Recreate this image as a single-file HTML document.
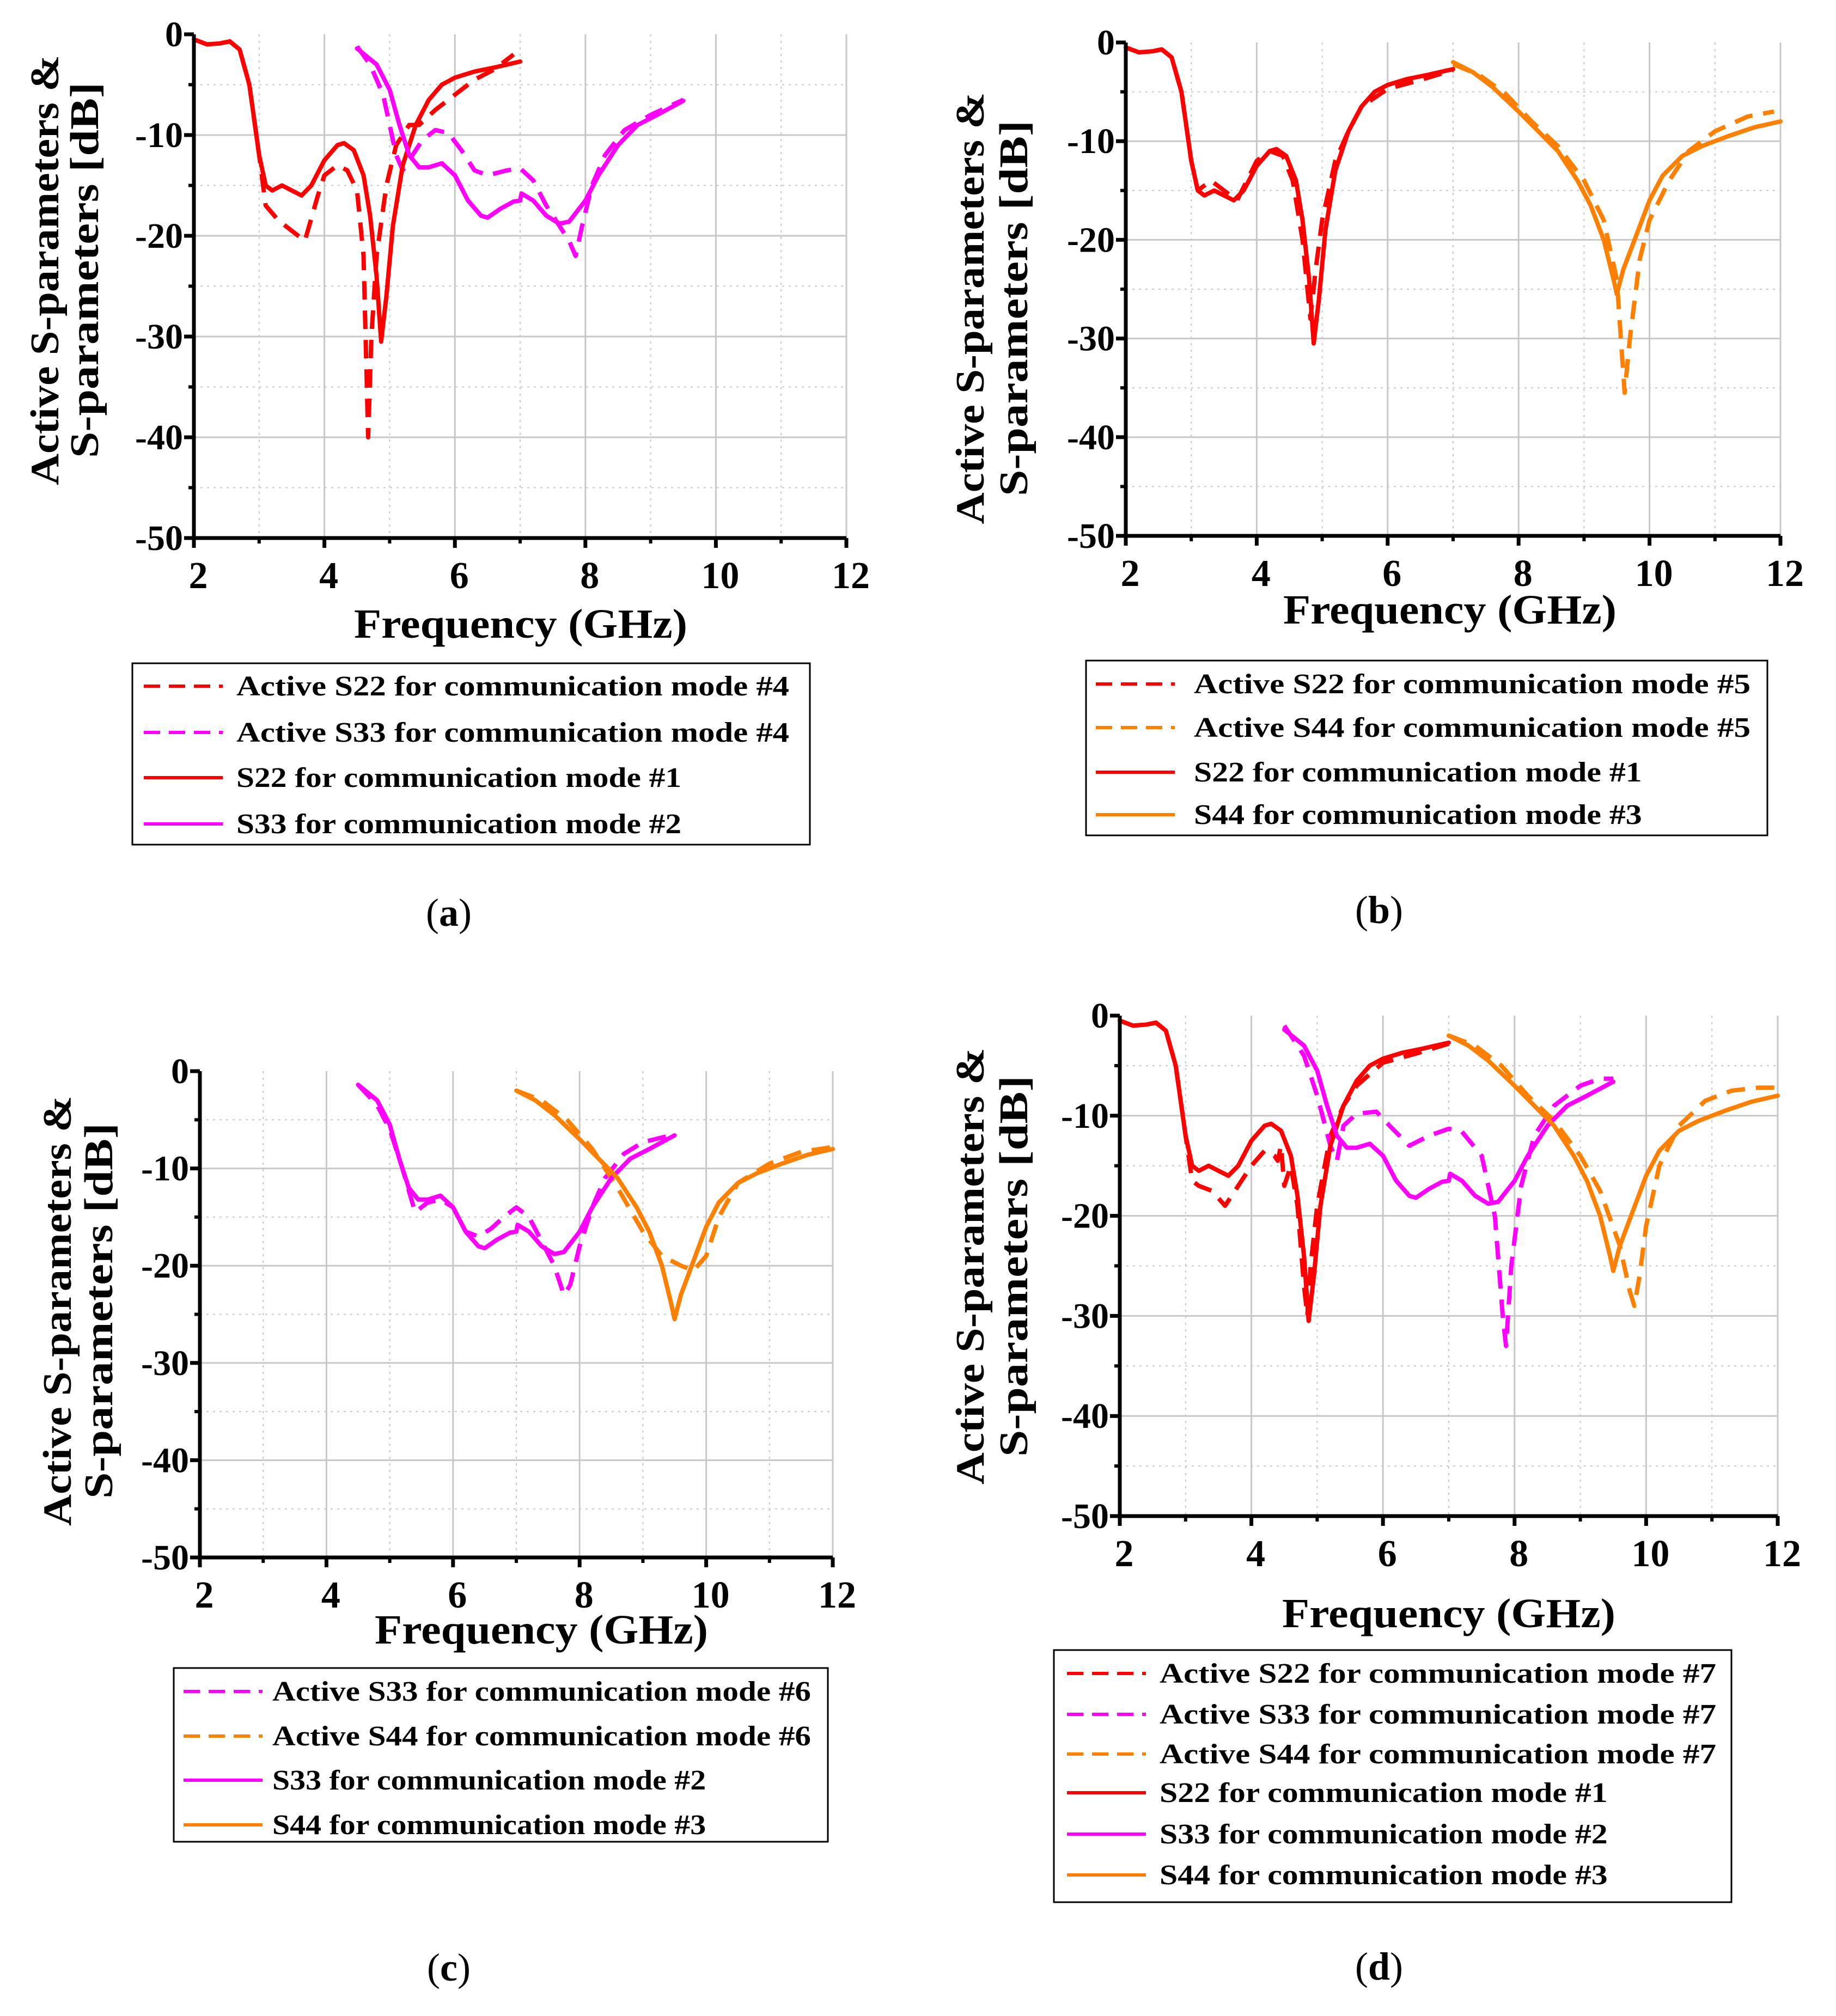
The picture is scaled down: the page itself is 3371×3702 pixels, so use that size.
<!DOCTYPE html>
<html><head><meta charset="utf-8"><style>
html,body{margin:0;padding:0;background:#fff;}
svg{display:block;font-family:"Liberation Serif",serif;font-weight:bold;}
</style></head><body>
<svg id="fig" width="3371" height="3702" viewBox="0 0 3371 3702" xmlns="http://www.w3.org/2000/svg"></svg>
<script>
// ---- data ----
const xTicks = [2,4,6,8,10,12];
const yTicks = [0,-10,-20,-30,-40,-50];
const s22Mode1X = [2,2.2,2.4,2.55,2.7,2.85,3.0,3.1,3.2,3.35,3.5,3.65,3.8,4.0,4.2,4.3,4.45,4.6,4.7,4.8,4.87,4.95,5.05,5.2,5.4,5.6,5.8,6.0,6.3,6.6,7.0];
const s22Mode1Y = [-0.5,-1.0,-0.9,-0.7,-1.5,-5,-12,-15,-15.5,-15,-15.5,-16,-15,-12.5,-11,-10.8,-11.5,-14,-18,-24,-30.5,-26,-19,-13,-9,-6.5,-5,-4.3,-3.7,-3.3,-2.7];
const s33Mode2X = [4.5,4.8,5.0,5.15,5.3,5.45,5.6,5.8,6.0,6.2,6.4,6.5,6.7,6.9,7.0,7.02,7.2,7.4,7.6,7.75,8.0,8.2,8.5,8.8,9.1,9.5];
const s33Mode2Y = [-1.4,-3,-5.5,-9,-12,-13.2,-13.2,-12.8,-14,-16.5,-18,-18.2,-17.3,-16.6,-16.5,-15.8,-16.5,-18,-18.8,-18.6,-16.5,-14,-11,-9,-8,-6.6];
const s44Mode3X = [7.0,7.3,7.6,8.0,8.3,8.6,8.9,9.1,9.3,9.45,9.5,9.6,9.8,10.0,10.2,10.5,10.8,11.2,11.6,12];
const s44Mode3Y = [-2,-3,-4.5,-7,-9,-11,-14,-16.5,-20,-24,-25.5,-23,-19.5,-16,-13.5,-11.5,-10.5,-9.5,-8.6,-8];
const aS22m4X = [2,2.2,2.4,2.55,2.7,2.85,3.0,3.1,3.3,3.5,3.7,3.9,4.0,4.2,4.35,4.5,4.6,4.67,4.72,4.8,4.95,5.1,5.3,5.45,5.7,6.0,6.3,6.6,6.9];
const aS22m4Y = [-0.5,-1.0,-0.9,-0.7,-1.5,-5,-12,-17,-18.5,-19.5,-20.5,-16,-14,-13,-13.5,-15.5,-22,-40,-30,-22,-15,-11,-9,-9,-7.5,-6,-4.5,-3.5,-2];
const aS33m4X = [4.5,4.7,4.9,5.0,5.1,5.2,5.35,5.5,5.7,5.9,6.1,6.3,6.5,6.8,7.0,7.2,7.4,7.6,7.75,7.85,7.95,8.1,8.3,8.6,9.0,9.5];
const aS33m4Y = [-1.2,-3,-6,-9,-12,-13.5,-12,-10.5,-9.5,-9.8,-11.5,-13.5,-14,-13.5,-13.3,-14.5,-17,-19,-20.5,-22,-19,-15,-12,-9.5,-8,-6.5];
const aS22m5X = [2,2.2,2.4,2.55,2.7,2.85,3.0,3.1,3.3,3.5,3.7,4.0,4.2,4.4,4.55,4.7,4.82,4.9,5.0,5.2,5.4,5.6,6.0,6.5,7.0];
const aS22m5Y = [-0.5,-1.0,-0.9,-0.7,-1.5,-5,-12,-15,-14,-15,-16,-12,-11,-11.5,-14,-20,-28,-23,-18,-12,-9,-6.5,-4.7,-3.8,-2.8];
const aS44m5X = [7.0,7.4,7.8,8.2,8.6,9.0,9.3,9.5,9.62,9.7,9.85,10.0,10.3,10.6,11.0,11.5,11.9];
const aS44m5Y = [-2.2,-3.3,-5.2,-8,-10.5,-14,-18,-24,-35.5,-30,-22,-18,-14,-11,-9,-7.5,-7];
const aS33m6X = [4.5,4.8,5.0,5.2,5.4,5.6,5.8,6.0,6.2,6.4,6.6,6.8,7.0,7.2,7.4,7.6,7.75,7.85,8.0,8.2,8.4,8.7,9.0,9.5];
const aS33m6Y = [-1.4,-3.5,-6,-10,-14.5,-13.5,-13.2,-14,-16.5,-17,-16.2,-15,-14,-15,-17.5,-20,-23,-22,-18,-14,-11,-8.5,-7.3,-6.5];
const aS44m6X = [7.0,7.4,7.8,8.2,8.6,9.0,9.3,9.6,9.8,10.0,10.2,10.5,11.0,11.5,12];
const aS44m6Y = [-2,-3,-5,-8,-12,-16.5,-19,-20,-20.5,-19,-15,-11.5,-9.5,-8.3,-7.8];
const aS22m7X = [2,2.2,2.4,2.55,2.7,2.85,3.0,3.1,3.2,3.4,3.6,3.8,4.0,4.2,4.35,4.4,4.45,4.5,4.6,4.7,4.8,4.85,4.9,5.0,5.2,5.4,5.6,6.0,6.5,7.0];
const aS22m7Y = [-0.5,-1.0,-0.9,-0.7,-1.5,-5,-12,-16.5,-17,-17.5,-19,-17,-15,-13.5,-14,-14.5,-13,-17,-15,-19,-27,-30,-25,-19,-12,-9,-7,-4.7,-3.8,-2.8];
const aS33m7X = [4.5,4.8,5.0,5.2,5.3,5.4,5.6,5.9,6.1,6.4,6.7,7.0,7.2,7.5,7.7,7.82,7.87,7.95,8.1,8.3,8.6,9.0,9.3,9.5];
const aS33m7Y = [-1,-4,-8,-13,-14.5,-11,-9.8,-9.6,-11,-13,-12,-11.3,-11.6,-14,-20,-30,-33,-25,-17,-12,-9,-7,-6.3,-6.3];
const aS44m7X = [7.0,7.4,7.8,8.2,8.6,9.0,9.3,9.6,9.75,9.82,9.9,10.0,10.2,10.5,10.9,11.3,11.7,12];
const aS44m7Y = [-2,-3,-5,-8,-10.5,-14,-17.5,-23,-27.5,-29,-26,-21,-15,-11,-8.5,-7.5,-7.2,-7.2];

const RED='#ff0000', MAG='#ff00ff', ORA='#ff8000';
const NS='http://www.w3.org/2000/svg';
const svg=document.getElementById('fig');
function mk(tag,attrs,parent){const e=document.createElementNS(NS,tag);for(const k in attrs)e.setAttribute(k,attrs[k]);(parent||svg).appendChild(e);return e;}

const panels=[
 {id:'a',x0:356,x1:1554,y0:63,y1:988,ty:[83,156,496,790,690],fx:956,fy:1145,
  leg:{x:243,y:1218,w:1244,h:333,lx:264,tx:434,tw:1015,rows:[1260,1345,1428,1513]},cap:[824,1676],
  series:[[aS22m4X,aS22m4Y,RED,1,'Active S22 for communication mode #4'],[aS33m4X,aS33m4Y,MAG,1,'Active S33 for communication mode #4'],[s22Mode1X,s22Mode1Y,RED,0,'S22 for communication mode #1'],[s33Mode2X,s33Mode2Y,MAG,0,'S33 for communication mode #2']]},
 {id:'b',x0:2067,x1:3269,y0:78,y1:984,ty:[1782,1862,566,793,690],fx:2662,fy:1119,
  leg:{x:1994,y:1213,w:1251,h:321,lx:2012,tx:2192,tw:1022,rows:[1256,1336,1418,1496]},cap:[2532,1671],
  series:[[aS22m5X,aS22m5Y,RED,1,'Active S22 for communication mode #5'],[aS44m5X,aS44m5Y,ORA,1,'Active S44 for communication mode #5'],[s22Mode1X,s22Mode1Y,RED,0,'S22 for communication mode #1'],[s44Mode3X,s44Mode3Y,ORA,0,'S44 for communication mode #3']]},
 {id:'c',x0:367,x1:1529,y0:1967,y1:2860,ty:[106,182,2407,790,690],fx:994,fy:2992,
  leg:{x:319,y:3063,w:1201,h:319,lx:337,tx:500,tw:989,rows:[3106,3188,3269,3351]},cap:[824,3613],
  series:[[aS33m6X,aS33m6Y,MAG,1,'Active S33 for communication mode #6'],[aS44m6X,aS44m6Y,ORA,1,'Active S44 for communication mode #6'],[s33Mode2X,s33Mode2Y,MAG,0,'S33 for communication mode #2'],[s44Mode3X,s44Mode3Y,ORA,0,'S44 for communication mode #3']]},
 {id:'d',x0:2056,x1:3264,y0:1865,y1:2784,ty:[1782,1862,2325,802,700],fx:2660,fy:2962,
  leg:{x:1935,y:3030,w:1244,h:463,lx:1959,tx:2129,tw:1022,rows:[3073,3148,3221,3292,3368,3443]},cap:[2532,3611],
  series:[[aS22m7X,aS22m7Y,RED,1,'Active S22 for communication mode #7'],[aS33m7X,aS33m7Y,MAG,1,'Active S33 for communication mode #7'],[aS44m7X,aS44m7Y,ORA,1,'Active S44 for communication mode #7'],[s22Mode1X,s22Mode1Y,RED,0,'S22 for communication mode #1'],[s33Mode2X,s33Mode2Y,MAG,0,'S33 for communication mode #2'],[s44Mode3X,s44Mode3Y,ORA,0,'S44 for communication mode #3']]}
];

panels.forEach(p=>{
 const g=mk('g',{});
 
 
 const sx=v=>p.x0+(v-2)/10*(p.x1-p.x0);
 const sy=v=>p.y0+(-v)/50*(p.y1-p.y0);
 for(let v=3;v<12;v+=2){const l=mk('line',{x1:sx(v),x2:sx(v),y1:p.y0,y2:p.y1,stroke:'#c8c8c8','stroke-width':2,'stroke-dasharray':'4 8'},g);}
 for(let v=-5;v>-50;v-=10){const l=mk('line',{x1:p.x0,x2:p.x1,y1:sy(v),y2:sy(v),stroke:'#c8c8c8','stroke-width':2,'stroke-dasharray':'4 8'},g);}
 xTicks.slice(1).forEach(v=>{const l=mk('line',{x1:sx(v),x2:sx(v),y1:p.y0,y2:p.y1,stroke:'#c8c8c8','stroke-width':3},g);});
 yTicks.slice(1,-1).forEach(v=>{const l=mk('line',{x1:p.x0,x2:p.x1,y1:sy(v),y2:sy(v),stroke:'#c8c8c8','stroke-width':3},g);});
 p.series.forEach(s=>{
  const pts=s[0].map((x,i)=>sx(x).toFixed(1)+','+sy(s[1][i]).toFixed(1)).join(' ');
  const a={points:pts,fill:'none',stroke:s[2],'stroke-width':8,'stroke-linejoin':'round','stroke-linecap':s[3]?'butt':'round'};
  if(s[3])a['stroke-dasharray']='34 20';
  const pl=mk('polyline',a,g);
  
  
 });
 const ax=mk('path',{d:`M${p.x0},${p.y0} V${p.y1} H${p.x1}`,fill:'none',stroke:'#000','stroke-width':7},g);
 
 
 xTicks.forEach(v=>{mk('line',{x1:sx(v),x2:sx(v),y1:p.y1,y2:p.y1+18,stroke:'#000','stroke-width':7},g);
  const t=mk('text',{x:sx(v)+8,y:p.y1+92,'font-size':70,'text-anchor':'middle'},g);t.textContent=v;
  });
 for(let v=3;v<12;v+=2)mk('line',{x1:sx(v),x2:sx(v),y1:p.y1,y2:p.y1+10,stroke:'#000','stroke-width':6},g);
 yTicks.forEach(v=>{mk('line',{x1:p.x0-18,x2:p.x0,y1:sy(v),y2:sy(v),stroke:'#000','stroke-width':7},g);
  const t=mk('text',{x:p.x0-20,y:sy(v)+22,'font-size':66,'text-anchor':'end'},g);t.textContent=v;
  });
 for(let v=-5;v>-50;v-=10)mk('line',{x1:p.x0-10,x2:p.x0,y1:sy(v),y2:sy(v),stroke:'#000','stroke-width':6},g);
 const xt=mk('text',{x:p.fx,y:p.fy+26,'font-size':76,'text-anchor':'middle',textLength:612,lengthAdjust:'spacingAndGlyphs'},g);
 xt.textContent='Frequency (GHz)';
 
 const y1=mk('text',{x:0,y:0,'font-size':74,'text-anchor':'middle','dominant-baseline':'central',textLength:p.ty[3],lengthAdjust:'spacingAndGlyphs',transform:`translate(${p.ty[0]},${p.ty[2]}) rotate(-90)`},g);
 y1.textContent='Active S-parameters &';
 
 const y2=mk('text',{x:0,y:0,'font-size':74,'text-anchor':'middle','dominant-baseline':'central',textLength:p.ty[4],lengthAdjust:'spacingAndGlyphs',transform:`translate(${p.ty[1]},${p.ty[2]}) rotate(-90)`},g);
 y2.textContent='S-parameters [dB]';
 
 const L=p.leg;
 const lg=mk('g',{},g);
 
 
 mk('rect',{x:L.x,y:L.y,width:L.w,height:L.h,fill:'#fff',stroke:'#000','stroke-width':3},lg);
 p.series.forEach((s,i)=>{
  const yy=L.rows[i];
  const a={x1:L.lx,x2:L.lx+145,y1:yy,y2:yy,stroke:s[2],'stroke-width':6};
  if(s[3])a['stroke-dasharray']='30 16';
  mk('line',a,lg);
  const txtW=s[3]?L.tw:L.tw*0.805;
  const t=mk('text',{x:L.tx,y:yy+17,'font-size':52,textLength:txtW,lengthAdjust:'spacingAndGlyphs'},lg);
  t.textContent=s[4];
  
  
 });
 const c=mk('text',{x:p.cap[0],y:p.cap[1]+24,'font-size':72,'text-anchor':'middle','font-weight':'normal'},g);
 
 
 const o=mk('tspan',{},c);o.textContent='(';
 const m=mk('tspan',{'font-weight':'bold'},c);m.textContent=p.id;
 const e=mk('tspan',{},c);e.textContent=')';
});
</script>
</body></html>
